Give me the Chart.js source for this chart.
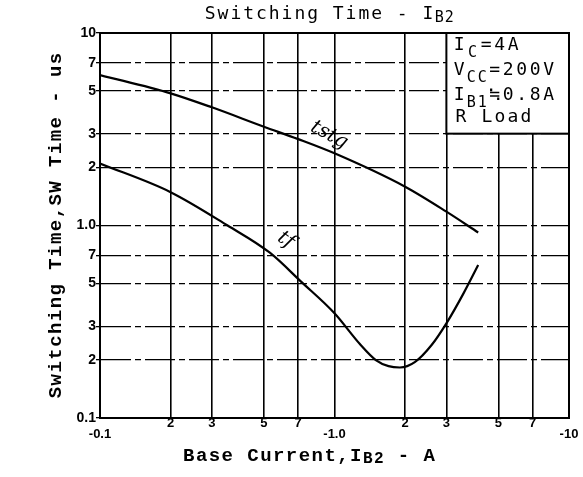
<!DOCTYPE html>
<html><head><meta charset="utf-8">
<script src="https://cdn.jsdelivr.net/npm/chart.js@4/dist/chart.umd.min.js"></script>
<style>html,body{margin:0;padding:0;background:#fff}#wrap{width:583px;height:477px;position:relative}</style>
</head><body><div id="wrap"><canvas id="c"></canvas></div>
<script>
// ---- data ----
const xTickValues = [0.1, 0.2, 0.3, 0.5, 0.7, 1, 2, 3, 5, 7, 10];
const xTickLabels = [['', '-0.1'], ['2'], ['3'], ['5'], ['7'], ['', '-1.0'], ['2'], ['3'], ['5'], ['7'], ['', '-10']];
const yTickValues = [0.1, 0.2, 0.3, 0.5, 0.7, 1, 2, 3, 5, 7, 10];
const yTickLabels = ['0.1', '2', '3', '5', '7', '1.0', '2', '3', '5', '7', '10'];
const tstgCurrent = [0.1, 0.2, 0.3, 0.5, 0.7, 1.0, 2.0, 3.0, 4.1];
const tstgTime = [6.05, 4.86, 4.11, 3.26, 2.81, 2.37, 1.59, 1.18, 0.92];
const tfCurrent = [0.1, 0.2, 0.35, 0.53, 0.72, 1.0, 1.28, 1.5, 1.7, 1.9, 2.2, 2.6, 3.0, 3.55, 4.1];
const tfTime = [2.1, 1.49, 1.0, 0.722, 0.511, 0.35, 0.243, 0.2, 0.186, 0.183, 0.195, 0.24, 0.31, 0.444, 0.623];
const curveLabels = ['tstg', 'tf'];

const MONO = '"DejaVu Sans Mono", "Liberation Mono", monospace';
const MONOB = '"Liberation Mono", "DejaVu Sans Mono", monospace';

function drawSegs(ctx, segs, x, y, align) {
  let total = 0;
  segs.forEach(s => total += s.t.length * s.adv);
  let cx = align === 'center' ? x - total / 2 : x;
  ctx.textAlign = 'center';
  ctx.textBaseline = 'alphabetic';
  segs.forEach(s => {
    ctx.font = s.font;
    for (const ch of s.t) {
      ctx.fillText(ch, cx + s.adv / 2, y + (s.dy || 0));
      cx += s.adv;
    }
  });
}

const decor = {
  id: 'decor',
  beforeDatasetsDraw(chart) {
    const { ctx, chartArea: a, scales: { x, y } } = chart;
    ctx.save();
    ctx.strokeStyle = '#000';
    ctx.lineWidth = 2;
    ctx.strokeRect(a.left, a.top, a.right - a.left, a.bottom - a.top);
    // condition box (from -3 A to -10 A, 3 us up to 10 us)
    const bx = x.getPixelForValue(3), by = y.getPixelForValue(3);
    ctx.fillStyle = '#fff';
    ctx.fillRect(bx, a.top, a.right - bx, by - a.top);
    ctx.strokeRect(bx, a.top, a.right - bx, by - a.top);
    ctx.fillStyle = '#000';
    const F = '18px ' + MONO, S = '15px ' + MONO;
    drawSegs(ctx, [{t: 'I', font: F, adv: 13.5}, {t: 'C', font: S, adv: 13.5, dy: 7}, {t: '=4A', font: F, adv: 13.5}], bx + 6, 50, 'left');
    drawSegs(ctx, [{t: 'V', font: F, adv: 13.5}, {t: 'CC', font: S, adv: 11, dy: 7}, {t: '=200V', font: F, adv: 13.5}], bx + 6, 75, 'left');
    drawSegs(ctx, [{t: 'I', font: F, adv: 13.5}, {t: 'B1', font: S, adv: 11, dy: 7}, {t: '≒0.8A', font: F, adv: 13.5}], bx + 6, 100, 'left');
    drawSegs(ctx, [{t: 'R Load', font: F, adv: 13}], bx + 8, 122, 'left');
    ctx.restore();
  },
  afterDraw(chart) {
    const { ctx, chartArea: a, scales: { x, y } } = chart;
    ctx.save();
    ctx.fillStyle = '#000';
    drawSegs(ctx, [{t: 'Switching Time - I', font: '18px ' + MONO, adv: 12.8}, {t: 'B2', font: '15px ' + MONO, adv: 10, dy: 3}], 329, 19, 'center');
    const XF = 'bold 19px ' + MONOB, XS = 'bold 16px ' + MONOB;
    drawSegs(ctx, [{t: 'Base Current,I', font: XF, adv: 12.85}, {t: 'B2', font: XS, adv: 11, dy: 2}, {t: ' - A', font: XF, adv: 12.85}], 309, 461, 'center');
    ctx.translate(55, (a.top + a.bottom) / 2);
    ctx.rotate(-Math.PI / 2);
    drawSegs(ctx, [{t: 'Switching Time,SW Time - us', font: XF, adv: 12.85}], 0, 6, 'center');
    ctx.restore();
    const lbl = (text, xv, yv, rot) => {
      ctx.save();
      ctx.font = 'italic 20px "DejaVu Serif", serif';
      ctx.fillStyle = '#000';
      ctx.textAlign = 'center'; ctx.textBaseline = 'middle';
      ctx.translate(x.getPixelForValue(xv), y.getPixelForValue(yv));
      ctx.rotate(rot);
      ctx.fillText(text, 0, 0);
      ctx.restore();
    };
    lbl(curveLabels[0], 0.95, 2.95, 0.5);
    lbl(curveLabels[1], 0.62, 0.84, 0.6);
  }
};

const tickFont = { family: '"Liberation Sans", "DejaVu Sans", sans-serif', size: 13, weight: 'bold', lineHeight: 0.85 };

new Chart(document.getElementById('c'), {
  type: 'line',
  data: {
    datasets: [
      { label: curveLabels[0], data: tstgCurrent.map((v, i) => ({ x: v, y: tstgTime[i] })) },
      { label: curveLabels[1], data: tfCurrent.map((v, i) => ({ x: v, y: tfTime[i] })) }
    ]
  },
  options: {
    responsive: true,
    maintainAspectRatio: false,
    animation: false,
    layout: { padding: { top: 33, right: 14, left: 0, bottom: 0 } },
    elements: {
      line: { borderColor: '#000', borderWidth: 2.2, cubicInterpolationMode: 'monotone', fill: false },
      point: { radius: 0 }
    },
    plugins: { legend: { display: false }, tooltip: { enabled: false }, title: { display: false } },
    scales: {
      x: {
        type: 'logarithmic', min: 0.1, max: 10,
        afterBuildTicks: s => { s.ticks = xTickValues.map(v => ({ value: v })); },
        afterFit: s => { s.height = 59; },
        ticks: {
          autoSkip: false, maxRotation: 0, minRotation: 0, padding: 0, color: '#000', font: tickFont,
          callback: v => xTickLabels[xTickValues.findIndex(t => Math.abs(t - v) < 1e-9)]
        },
        grid: { color: '#000', lineWidth: 1.6, drawTicks: false },
        border: { color: '#000', width: 2 }
      },
      y: {
        type: 'logarithmic', min: 0.1, max: 10,
        afterBuildTicks: s => { s.ticks = yTickValues.map(v => ({ value: v })); },
        afterFit: s => { s.width = 100; },
        ticks: {
          autoSkip: false, padding: 0, color: '#000', font: { family: '"Liberation Sans", "DejaVu Sans", sans-serif', size: 14, weight: 'bold' },
          callback: v => yTickLabels[yTickValues.findIndex(t => Math.abs(t - v) < 1e-9)]
        },
        grid: { color: '#000', lineWidth: 1.3, tickLength: 4 },
        border: { color: '#000', width: 2, dash: [30, 4, 6, 4] }
      }
    }
  },
  plugins: [decor]
});
</script>
</body></html>
